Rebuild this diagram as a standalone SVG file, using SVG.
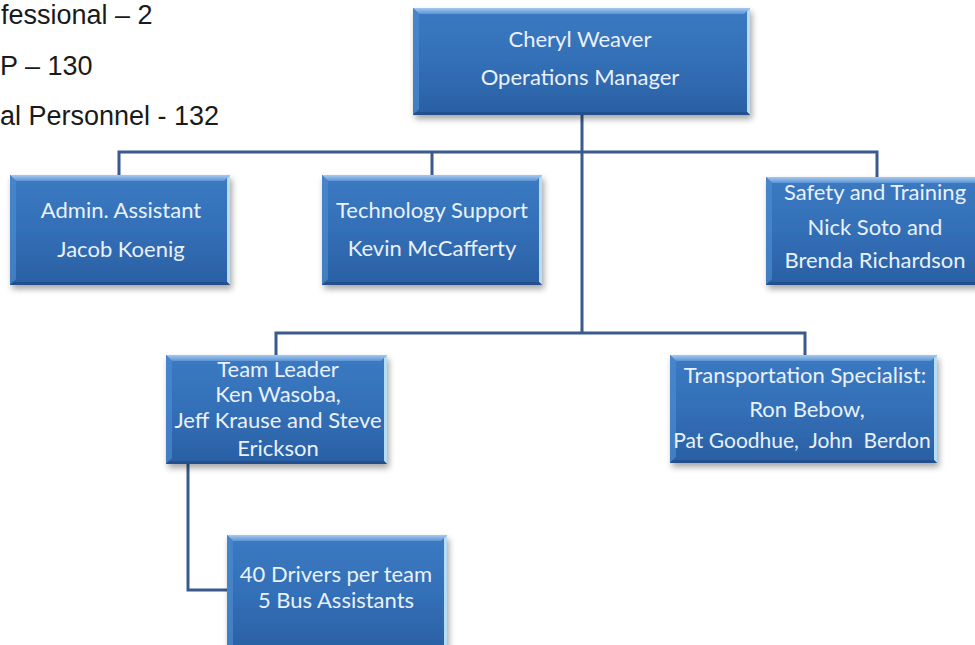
<svg xmlns="http://www.w3.org/2000/svg" width="975" height="645" viewBox="0 0 975 645">
<style>
.bt{font-family:"Liberation Sans",Arial,sans-serif;font-size:27px;fill:#1a1a1a}
.nt{font-family:Lato,"Open Sans",sans-serif;font-size:22px;fill:#e9f1fb;text-anchor:middle}
.body{fill:url(#boxg);filter:url(#sh)}
.bev-t{fill:url(#bevT)}
.bev-l{fill:#4c8ad0;opacity:0.7}
.bev-r{fill:#b7dcf6}
.bev-b{fill:#234f8c}
.conn{fill:none;stroke:#3a5a8d;stroke-width:3}
</style>
<defs>
<linearGradient id="boxg" x1="0" y1="0" x2="0" y2="1">
<stop offset="0" stop-color="#3b7ac2"/>
<stop offset="0.5" stop-color="#336fb7"/>
<stop offset="1" stop-color="#2a5fa3"/>
</linearGradient>
<linearGradient id="bevT" x1="0" y1="0" x2="0" y2="1">
<stop offset="0" stop-color="#a6c9ef"/>
<stop offset="1" stop-color="#5b95d6"/>
</linearGradient>
<filter id="sh" x="-10%" y="-10%" width="125%" height="130%">
<feDropShadow dx="2" dy="4" stdDeviation="3" flood-color="#000" flood-opacity="0.35"/>
</filter>
</defs>
<rect width="975" height="645" fill="#ffffff"/>

<g id="summary">
<text class="bt" x="1" y="24">fessional – 2</text>
<text class="bt" x="0" y="75">P – 130</text>
<text class="bt" x="0" y="125">al Personnel - 132</text>
</g>

<g id="connectors">
<path class="conn" d="M582,115 V333"/>
<path class="conn" d="M119,175 V152 H877 V177"/>
<path class="conn" d="M432,152 V175"/>
<path class="conn" d="M276,355 V333 H805 V355"/>
<path class="conn" d="M188,464 V590 H227"/>
</g>

<g id="n-manager">
<rect class="body" x="413" y="8" width="337" height="107"/>
<path class="bev-t" d="M413,8 H750 L744,14 H419 Z"/>
<path class="bev-l" d="M413,8 L419,14 V109 L413,115 Z"/>
<path class="bev-r" d="M750,8 V115 L747,112 V11 Z"/>
<path class="bev-b" d="M413,115 H750 L747,112 H416 Z"/>
<text class="nt" x="580" y="47">Cheryl Weaver</text>
<text class="nt" x="580" y="85">Operations Manager</text>
</g>

<g id="n-admin">
<rect class="body" x="10" y="175" width="220" height="110"/>
<path class="bev-t" d="M10,175 H230 L224,181 H16 Z"/>
<path class="bev-l" d="M10,175 L16,181 V279 L10,285 Z"/>
<path class="bev-r" d="M230,175 V285 L227,282 V178 Z"/>
<path class="bev-b" d="M10,285 H230 L227,282 H13 Z"/>
<text class="nt" x="121" y="218">Admin. Assistant</text>
<text class="nt" x="121" y="257">Jacob Koenig</text>
</g>

<g id="n-tech">
<rect class="body" x="322" y="175" width="220" height="110"/>
<path class="bev-t" d="M322,175 H542 L536,181 H328 Z"/>
<path class="bev-l" d="M322,175 L328,181 V279 L322,285 Z"/>
<path class="bev-r" d="M542,175 V285 L539,282 V178 Z"/>
<path class="bev-b" d="M322,285 H542 L539,282 H325 Z"/>
<text class="nt" x="432" y="218">Technology Support</text>
<text class="nt" x="432" y="256">Kevin McCafferty</text>
</g>

<g id="n-safety">
<rect class="body" x="766" y="177" width="222" height="108"/>
<path class="bev-t" d="M766,177 H988 L982,183 H772 Z"/>
<path class="bev-l" d="M766,177 L772,183 V279 L766,285 Z"/>
<path class="bev-b" d="M766,285 H988 L985,282 H769 Z"/>
<text class="nt" x="875" y="200">Safety and Training</text>
<text class="nt" x="875" y="235">Nick Soto and</text>
<text class="nt" x="875" y="268">Brenda Richardson</text>
</g>

<g id="n-team">
<rect class="body" x="166" y="355" width="221" height="109"/>
<path class="bev-t" d="M166,355 H387 L381,361 H172 Z"/>
<path class="bev-l" d="M166,355 L172,361 V458 L166,464 Z"/>
<path class="bev-r" d="M387,355 V464 L384,461 V358 Z"/>
<path class="bev-b" d="M166,464 H387 L384,461 H169 Z"/>
<text class="nt" x="278" y="377">Team Leader</text>
<text class="nt" x="278" y="402">Ken Wasoba,</text>
<text class="nt" x="278" y="428">Jeff Krause and Steve</text>
<text class="nt" x="278" y="456">Erickson</text>
</g>

<g id="n-transport">
<rect class="body" x="670" y="355" width="267" height="108"/>
<path class="bev-t" d="M670,355 H937 L931,361 H676 Z"/>
<path class="bev-l" d="M670,355 L676,361 V457 L670,463 Z"/>
<path class="bev-r" d="M937,355 V463 L934,460 V358 Z"/>
<path class="bev-b" d="M670,463 H937 L934,460 H673 Z"/>
<text class="nt" x="805" y="383">Transportation Specialist:</text>
<text class="nt" x="807" y="417">Ron Bebow,</text>
<text class="nt" x="802" y="448" style="font-size:21px" xml:space="preserve">Pat Goodhue,  John  Berdon</text>
</g>

<g id="n-drivers">
<rect class="body" x="227" y="535" width="220" height="120"/>
<path class="bev-t" d="M227,535 H447 L441,541 H233 Z"/>
<path class="bev-l" d="M227,535 L233,541 V650 L227,655 Z"/>
<path class="bev-r" d="M447,535 V655 L444,652 V538 Z"/>
<text class="nt" x="336" y="582">40 Drivers per team</text>
<text class="nt" x="336" y="608">5 Bus Assistants</text>
</g>
</svg>
